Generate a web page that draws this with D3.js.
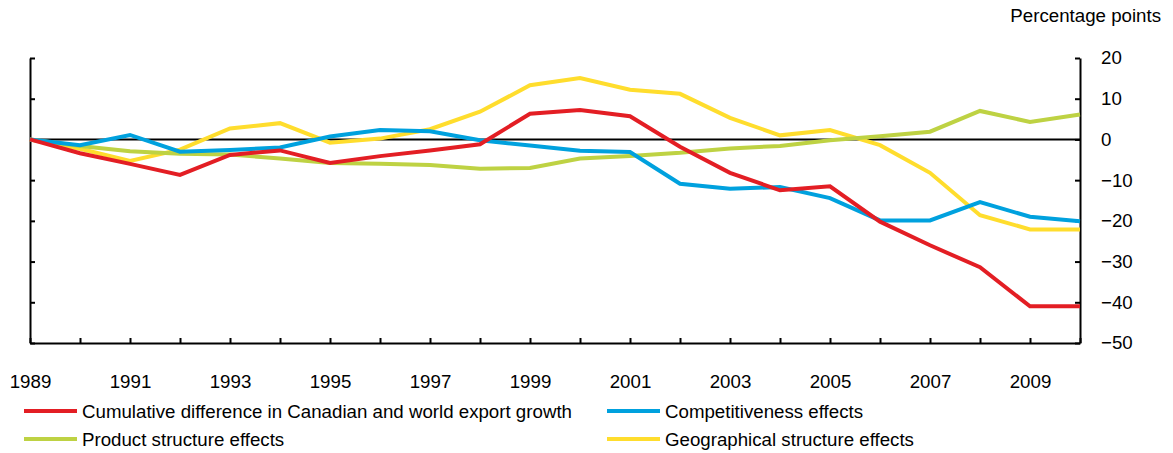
<!DOCTYPE html>
<html>
<head>
<meta charset="utf-8">
<script src="https://cdn.jsdelivr.net/npm/d3@7"></script>
<style>
  body { margin: 0; background: #fff; }
  svg { font-family: "Liberation Sans", Arial, sans-serif; }
</style>
</head>
<body>
<svg id="chart" width="1173" height="453"></svg>
<script>
// years on the x axis
const years = d3.range(1989, 2011);

// series values, percentage points
const cumulativeDiff = [0, -3.4, -6.0, -8.7, -3.8, -2.7, -5.8, -4.1, -2.7, -1.2, 6.3, 7.2, 5.7, -1.8, -8.2, -12.5, -11.5, -20.2, -26.0, -31.4, -41.0, -41.0];
const competitiveness = [0, -1.4, 1.1, -3.0, -2.6, -2.0, 0.7, 2.3, 2.0, -0.2, -1.5, -2.8, -3.1, -10.9, -12.1, -11.7, -14.4, -19.9, -19.9, -15.4, -19.0, -20.1];
const productStructure = [0, -1.6, -2.9, -3.5, -3.7, -4.7, -5.8, -6.0, -6.3, -7.2, -7.0, -4.7, -4.1, -3.3, -2.2, -1.6, -0.2, 0.8, 1.9, 7.0, 4.3, 6.1];
const geographicalStructure = [0, -2.3, -5.3, -2.5, 2.7, 4.0, -0.8, 0.2, 2.5, 6.8, 13.3, 15.1, 12.2, 11.2, 5.3, 1.0, 2.3, -1.4, -8.2, -18.6, -22.1, -22.1];

const yTicks = [20, 10, 0, -10, -20, -30, -40, -50];

const seriesNames = [
    "Cumulative difference in Canadian and world export growth",
    "Competitiveness effects",
    "Product structure effects",
    "Geographical structure effects"
];

const svg = d3.select("#chart");
const fontSize = 18.7;

const x = d3.scaleLinear().domain([1989, 2010]).range([30, 1080]);
const y = d3.scaleLinear().domain([-50, 20]).range([343, 58]);

// drawing order: yellow under, red on top
const series = [
    {name: seriesNames[3], values: geographicalStructure, color: "#ffdd2d"},
    {name: seriesNames[2], values: productStructure, color: "#bed243"},
    {name: seriesNames[1], values: competitiveness, color: "#00a1de"},
    {name: seriesNames[0], values: cumulativeDiff, color: "#e31e24"}
];

// left axis, ticks pointing in
svg.append("g")
    .attr("transform", "translate(30,0)")
    .call(d3.axisRight(y).tickValues(yTicks).tickSizeInner(5).tickSizeOuter(0).tickFormat(""))
    .call(g => g.selectAll("path, line").attr("stroke", "#000").attr("stroke-width", 2));

// right axis with labels
svg.append("g")
    .attr("transform", "translate(1080,0)")
    .call(d3.axisRight(y).tickValues(yTicks).tickSizeInner(-5).tickSizeOuter(0).tickPadding(21))
    .call(g => g.selectAll("path, line").attr("stroke", "#000").attr("stroke-width", 2))
    .call(g => g.selectAll("text").attr("font-size", fontSize).attr("fill", "#000")
        .attr("font-family", "Liberation Sans, Arial, sans-serif"));

// bottom axis, labels every other year
svg.append("g")
    .attr("transform", "translate(0,343)")
    .call(d3.axisBottom(x).tickValues(years).tickSizeInner(-5).tickSizeOuter(0).tickPadding(32)
        .tickFormat(d => (d % 2 === 1 && d < 2010) ? String(d) : ""))
    .call(g => g.selectAll("path, line").attr("stroke", "#000").attr("stroke-width", 2))
    .call(g => g.selectAll("text").attr("font-size", fontSize).attr("fill", "#000")
        .attr("font-family", "Liberation Sans, Arial, sans-serif"));

// zero line
svg.append("line")
    .attr("x1", x(1989)).attr("x2", x(2010))
    .attr("y1", y(0)).attr("y2", y(0))
    .attr("stroke", "#000").attr("stroke-width", 2);

const line = d3.line()
    .x((d, i) => x(years[i]))
    .y(d => y(d));

for (let s of series) {
    svg.append("path")
        .attr("d", line(s.values))
        .attr("fill", "none")
        .attr("stroke", s.color)
        .attr("stroke-width", 4)
        .attr("stroke-linejoin", "miter");
}

// unit label
svg.append("text")
    .attr("x", 1161).attr("y", 22)
    .attr("text-anchor", "end")
    .attr("font-size", fontSize)
    .text("Percentage points");

// legend
const legendItems = [
    {name: seriesNames[0], color: "#e31e24", lx: 24, ly: 411},
    {name: seriesNames[1], color: "#00a1de", lx: 607, ly: 411},
    {name: seriesNames[2], color: "#bed243", lx: 24, ly: 439},
    {name: seriesNames[3], color: "#ffdd2d", lx: 607, ly: 439}
];

const legend = svg.append("g");
for (let item of legendItems) {
    legend.append("line")
        .attr("x1", item.lx).attr("x2", item.lx + 53)
        .attr("y1", item.ly).attr("y2", item.ly)
        .attr("stroke", item.color).attr("stroke-width", 4);
    legend.append("text")
        .attr("x", item.lx + 58).attr("y", item.ly + 6.5)
        .attr("font-size", fontSize)
        .text(item.name);
}
</script>
</body>
</html>
